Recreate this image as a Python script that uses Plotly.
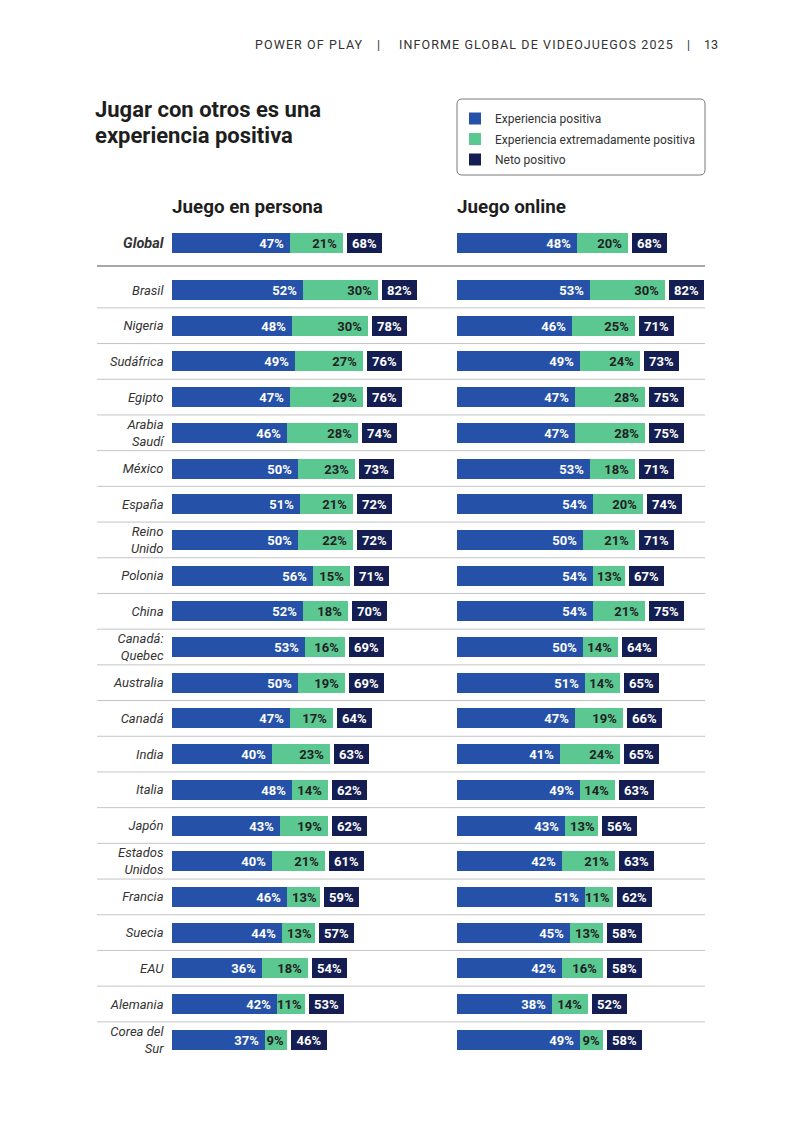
import plotly.graph_objects as go

# ---------------- data ----------------
countries = ["Global", "Brasil", "Nigeria", "Sudáfrica", "Egipto", "Arabia<br>Saudí", "México",
             "España", "Reino<br>Unido", "Polonia", "China", "Canadá:<br>Quebec", "Australia",
             "Canadá", "India", "Italia", "Japón", "Estados<br>Unidos", "Francia", "Suecia",
             "EAU", "Alemania", "Corea del<br>Sur"]

persona_pos = [47, 52, 48, 49, 47, 46, 50, 51, 50, 56, 52, 53, 50, 47, 40, 48, 43, 40, 46, 44, 36, 42, 37]
persona_ext = [21, 30, 30, 27, 29, 28, 23, 21, 22, 15, 18, 16, 19, 17, 23, 14, 19, 21, 13, 13, 18, 11, 9]
persona_net = [68, 82, 78, 76, 76, 74, 73, 72, 72, 71, 70, 69, 69, 64, 63, 62, 62, 61, 59, 57, 54, 53, 46]

online_pos = [48, 53, 46, 49, 47, 47, 53, 54, 50, 54, 54, 50, 51, 47, 41, 49, 43, 42, 51, 45, 42, 38, 49]
online_ext = [20, 30, 25, 24, 28, 28, 18, 20, 21, 13, 21, 14, 14, 19, 24, 14, 13, 21, 11, 13, 16, 14, 9]
online_net = [68, 82, 71, 73, 75, 75, 71, 74, 71, 67, 75, 64, 65, 66, 65, 63, 56, 63, 62, 58, 58, 52, 58]

series_names = ["Experiencia positiva", "Experiencia extremadamente positiva", "Neto positivo"]
panel_titles = ["Juego en persona", "Juego online"]

# ---------------- styling / geometry ----------------
W, H = 800, 1131
BLUE, GREEN, NAVY = "#2651A8", "#5BC892", "#141E52"
PX_PER_PCT = 2.51
X0_LEFT, X0_RIGHT = 172, 457
PITCH, Y_FIRST = 35.7, 290
GLOBAL_OFFSET = -1.317
BAR_W = 0.56
NET_GAP, NET_BOX = 1.6, 14.0
FONT = "Roboto"
TXT = 13

rows = [GLOBAL_OFFSET] + list(range(len(countries) - 1))


def px(x):
    return x / W


def py(y):
    return 1 - y / H


def pct(v):
    # a little extra right padding inside wider segments
    return [f"{a}%\u00a0" if a >= 14 else f"{a}%" for a in v]


fig = go.Figure()


def add_panel(pos, ext, net, xaxis, show):
    fig.add_trace(go.Bar(
        y=rows, x=pos, base=[0] * len(pos), orientation="h", width=BAR_W,
        marker=dict(color=BLUE, line=dict(width=0)), name=series_names[0],
        text=pct(pos), textposition="inside", insidetextanchor="end", textangle=0,
        textfont=dict(family=FONT, size=TXT, color="white", weight="bold"),
        xaxis=xaxis, yaxis="y", showlegend=show, legendgroup="a", hoverinfo="skip"))
    fig.add_trace(go.Bar(
        y=rows, x=ext, base=pos, orientation="h", width=BAR_W,
        marker=dict(color=GREEN, line=dict(width=0)), name=series_names[1],
        text=pct(ext), textposition="inside", insidetextanchor="end", textangle=0,
        textfont=dict(family=FONT, size=TXT, color="#222222", weight="bold"),
        xaxis=xaxis, yaxis="y", showlegend=show, legendgroup="b", hoverinfo="skip"))
    fig.add_trace(go.Bar(
        y=rows, x=[NET_BOX] * len(net), base=[p + e + NET_GAP for p, e in zip(pos, ext)],
        orientation="h", width=BAR_W,
        marker=dict(color=NAVY, line=dict(width=0)), name=series_names[2],
        text=[f"{n}%" for n in net], textposition="inside", insidetextanchor="middle", textangle=0,
        textfont=dict(family=FONT, size=TXT, color="white", weight="bold"),
        xaxis=xaxis, yaxis="y", showlegend=show, legendgroup="c", hoverinfo="skip"))


add_panel(persona_pos, persona_ext, persona_net, "x", True)
add_panel(online_pos, online_ext, online_net, "x2", False)

ticktext = ['<span style="font-size:14.5px"><b>Global</b></span>'] + countries[1:]

shapes = []
# Global separator
gsep = GLOBAL_OFFSET + (266 - 243) / PITCH
shapes.append(dict(type="line", xref="paper", yref="y", x0=px(97), x1=px(705),
                   y0=gsep, y1=gsep, line=dict(color="#8a8a8a", width=1.3)))
for i in range(len(countries) - 2):
    shapes.append(dict(type="line", xref="paper", yref="y", x0=px(97), x1=px(705),
                       y0=i + 0.5, y1=i + 0.5, line=dict(color="#c4c4c4", width=1)))

# legend rounded box
x0, x1, y0, y1, r = 457, 705, 99, 175, 5
path = (f"M {px(x0 + r)},{py(y0)} L {px(x1 - r)},{py(y0)} Q {px(x1)},{py(y0)} {px(x1)},{py(y0 + r)} "
        f"L {px(x1)},{py(y1 - r)} Q {px(x1)},{py(y1)} {px(x1 - r)},{py(y1)} "
        f"L {px(x0 + r)},{py(y1)} Q {px(x0)},{py(y1)} {px(x0)},{py(y1 - r)} "
        f"L {px(x0)},{py(y0 + r)} Q {px(x0)},{py(y0)} {px(x0 + r)},{py(y0)} Z")
shapes.append(dict(type="path", xref="paper", yref="paper", path=path,
                   line=dict(color="#7a7a7a", width=1), fillcolor="rgba(0,0,0,0)", layer="below"))

annotations = []
hdr = dict(xref="paper", yref="paper", showarrow=False, yanchor="middle",
           font=dict(family=FONT, size=12.5, color="#333333"))


def spaced(t):
    return f'<span style="letter-spacing:1.1px">{t}</span>'


annotations.append(dict(text=spaced("POWER OF PLAY"), x=px(253), y=py(44), xanchor="left", **hdr))
annotations.append(dict(text="|", x=px(378), y=py(44), xanchor="center", **hdr))
annotations.append(dict(text=spaced("INFORME GLOBAL DE VIDEOJUEGOS 2025"), x=px(397), y=py(44),
                        xanchor="left", **hdr))
annotations.append(dict(text="|", x=px(688), y=py(44), xanchor="center", **hdr))
annotations.append(dict(text="13", x=px(720), y=py(44), xanchor="right", **hdr))

ttl = dict(xref="paper", yref="paper", showarrow=False, xanchor="left", yanchor="middle",
           font=dict(family=FONT, size=22, color="#1e1e1e", weight="bold"))
annotations.append(dict(text="Jugar con otros es una", x=px(93), y=py(109.5), **ttl))
annotations.append(dict(text="experiencia positiva", x=px(93), y=py(136), **ttl))

ph = dict(xref="paper", yref="paper", showarrow=False, xanchor="left", yanchor="middle",
          font=dict(family=FONT, size=18.8, color="#1e1e1e", weight="bold"))
annotations.append(dict(text=panel_titles[0], x=px(170), y=py(207), **ph))
annotations.append(dict(text=panel_titles[1], x=px(455), y=py(207), **ph))

fig.update_layout(
    width=W, height=H, autosize=False,
    margin=dict(l=0, r=0, t=0, b=0),
    paper_bgcolor="white", plot_bgcolor="white",
    barmode="overlay", bargap=0,
    uniformtext=dict(minsize=TXT, mode="show"),
    xaxis=dict(range=[-X0_LEFT / PX_PER_PCT, (W - X0_LEFT) / PX_PER_PCT], visible=False,
               domain=[0, 1], fixedrange=True),
    xaxis2=dict(range=[-X0_RIGHT / PX_PER_PCT, (W - X0_RIGHT) / PX_PER_PCT], visible=False,
                overlaying="x", anchor="y", fixedrange=True),
    yaxis=dict(range=[(H - Y_FIRST) / PITCH, -Y_FIRST / PITCH], tickvals=rows, ticktext=ticktext,
               anchor="free", position=px(163.5), showgrid=False, zeroline=False, showline=False,
               ticks="", tickfont=dict(family=FONT, size=13, color="#333333", style="italic"),
               fixedrange=True),
    shapes=shapes,
    annotations=annotations,
    legend=dict(x=px(455), y=py(104), xanchor="left", yanchor="top",
                bgcolor="rgba(0,0,0,0)", borderwidth=0, tracegroupgap=1.5,
                traceorder="grouped", itemwidth=30,
                font=dict(family=FONT, size=12, color="#333333")),
    showlegend=True,
)

fig.write_html("out.html")
